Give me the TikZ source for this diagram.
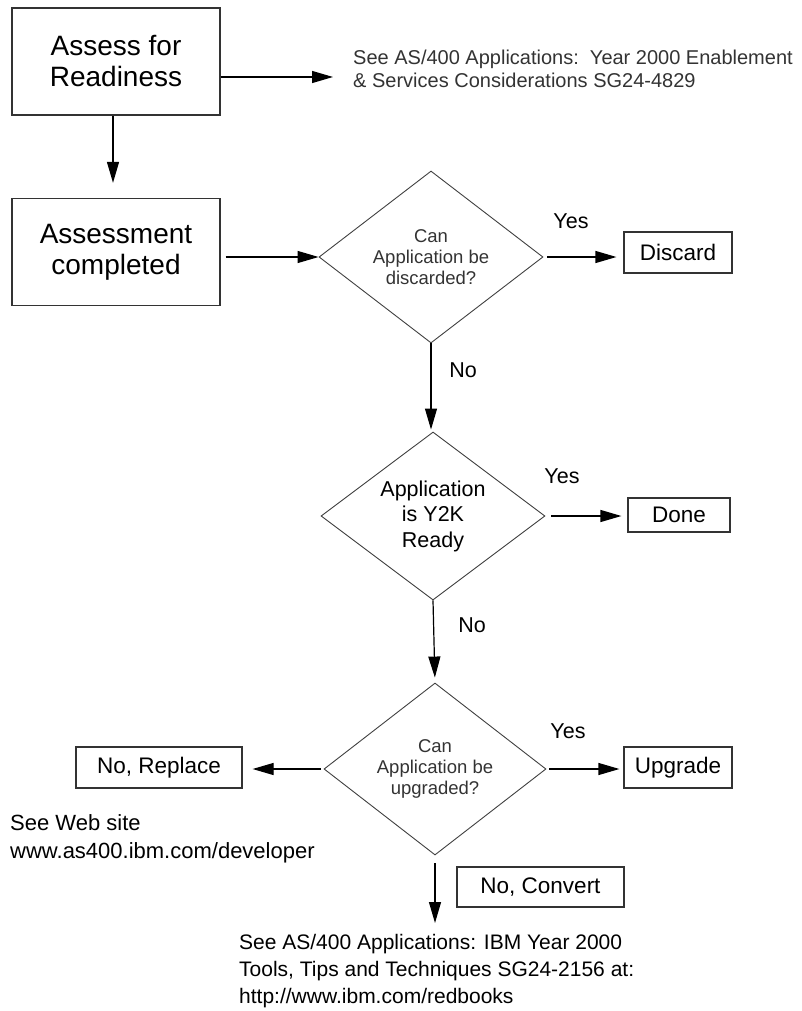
\documentclass[tikz,border=0pt]{standalone}
\usepackage{fontspec}
\setmainfont{Liberation Sans}
\usetikzlibrary{shapes.geometric,arrows.meta}
\newcommand\setfs[2]{\fontsize{#1}{#2}\selectfont}
\begin{document}
\begin{tikzpicture}[x=1pt,y=-1pt,
  arr/.style={draw=black, line width=1.2pt, -{Triangle[length=21pt,width=12pt]}},
  bigbox/.style={draw=black!80, line width=1.3pt, minimum width=208pt,
    minimum height=107pt, align=center, font=\setfs{28}{31}, inner sep=0pt},
  result/.style={draw=black!80, line width=1.2pt, minimum height=41pt,
    align=center, font=\setfs{22.5}{26}, inner sep=0pt},
  decision/.style={diamond, draw=black!75, line width=0.9pt, shape aspect=1.3,
    inner sep=0pt, align=center, minimum width=224pt, minimum height=172pt},
  lightq/.style={text=black!80, font=\setfs{18.5}{21}},
  answer/.style={font=\setfs{21.5}{24}, inner sep=0pt},
  note/.style={align=left, inner sep=0pt, anchor=west}
]
\useasboundingbox (0,0) rectangle (801,1011);

% process boxes
\node[bigbox] (assess) at (116,61.5) {Assess for\\Readiness};
\node[bigbox] (done1) at (116,252) {Assessment\\completed};

% references
\node[note, text=black!80, font=\setfs{20}{23}] (ref1) at (353,68.5)
  {See AS/400 Applications:\ \ Year 2000 Enablement\\
   \& Services Considerations SG24-4829};
\coordinate (ref1in) at (333,77);

% decisions
\node[decision, lightq] (q1) at (431,257) {Can\\Application be\\discarded?};
\node[decision, minimum height=168pt, font=\setfs{21.5}{25.5}] (q2) at (433,516)
  {Application\\is Y2K\\Ready};
\node[decision, lightq, minimum width=222pt] (q3) at (435,769)
  {Can\\Application be\\upgraded?};

% outcomes
\node[result, minimum width=108pt] (discard) at (678,252.5) {Discard};
\node[result, minimum width=102pt, minimum height=34pt] (ready) at (679,515) {Done};
\node[result, minimum width=108pt] (upgrade) at (678,767.5) {Upgrade};
\node[result, minimum width=166pt] (replace) at (159,767.5) {No, Replace};
\node[result, minimum width=167pt, minimum height=40pt] (convert) at (540.5,887) {No, Convert};

% answer labels
\node[answer] (y1) at (571,221) {Yes};
\node[answer] (n1) at (463,370) {No};
\node[answer] (y2) at (562,476) {Yes};
\node[answer] (n2) at (472,625) {No};
\node[answer] (y3) at (568,731) {Yes};

% further references
\node[note, font=\setfs{22}{28}] (ref2) at (10,839)
  {See Web site\\www.as400.ibm.com/developer};
\node[note, font=\setfs{21}{27}] (ref3) at (239,971)
  {See AS/400 Applications: IBM Year 2000\\
   Tools, Tips and Techniques SG24-2156 at:\\
   http://www.ibm.com/redbooks};
\coordinate (ref3in) at (435,923);

% connectors
\draw[arr] (assess.south -| 113,0) -- ([yshift=15pt]done1.north -| 113,0);
\draw[arr] (assess.east |- ref1in) -- (ref1in);
\draw[arr, shorten <=5pt] (done1.east |- q1.west) -- (q1.west);
\draw[arr, shorten <=4pt, shorten >=7pt] (q1.east) -- (discard.west |- q1.east);
\draw[arr, shorten >=2pt] (q1.south) -- (q1.south |- q2.north);
\draw[arr, shorten <=6pt, shorten >=6pt] (q2.east) -- (ready.west |- q2.east);
\draw[arr, shorten >=5pt] (q2.south) -- (q3.north);
\draw[arr, shorten <=3pt, shorten >=4pt] (q3.east) -- (upgrade.west |- q3.east);
\draw[arr, shorten <=3pt, shorten >=10pt] (q3.west) -- (replace.east |- q3.west);
\draw[arr, shorten <=8pt] (q3.south) -- (ref3in);
\end{tikzpicture}
\end{document}
